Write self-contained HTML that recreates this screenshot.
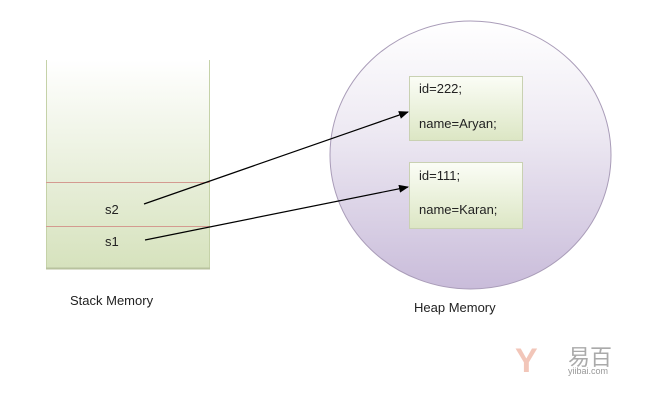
<!DOCTYPE html>
<html><head><style>
body{margin:0;width:645px;height:400px;background:#fff;overflow:hidden;position:relative;font-family:"Liberation Sans","Noto Sans CJK SC",sans-serif;}
.t{position:absolute;font-size:13px;color:#222;white-space:nowrap;}
</style></head><body>
<svg width="645" height="400" style="position:absolute;left:0;top:0">
<defs>
<linearGradient id="sg" x1="0" y1="0" x2="0" y2="1"><stop offset="0" stop-color="#fff"/><stop offset="1" stop-color="#d6e2bd"/></linearGradient>
<linearGradient id="cg" x1="0" y1="0" x2="0" y2="1"><stop offset="0" stop-color="#ffffff"/><stop offset="0.4" stop-color="#eeeaf3"/><stop offset="1" stop-color="#c9bcda"/></linearGradient>
<linearGradient id="bg" x1="0" y1="0" x2="0" y2="1"><stop offset="0" stop-color="#fbfdf6"/><stop offset="1" stop-color="#dce6c4"/></linearGradient>
<marker id="a" markerWidth="10" markerHeight="8" refX="9" refY="4" orient="auto" markerUnits="userSpaceOnUse"><path d="M0,0 L10,4 L0,8 z" fill="#000"/></marker>
</defs>
<rect x="46" y="60" width="164" height="208" fill="url(#sg)"/>
<line x1="46.5" y1="60" x2="46.5" y2="268" stroke="#c5d2a8"/>
<line x1="209.5" y1="60" x2="209.5" y2="268" stroke="#c5d2a8"/>
<line x1="46" y1="268.5" x2="210" y2="268.5" stroke="#b8c29e" stroke-width="2"/>
<line x1="46" y1="182.5" x2="210" y2="182.5" stroke="#d49a90"/>
<line x1="46" y1="226.5" x2="210" y2="226.5" stroke="#d49a90"/>
<ellipse cx="470.5" cy="155" rx="140.5" ry="134" fill="url(#cg)" stroke="#a99cb8"/>
<rect x="409.5" y="76.5" width="113" height="64" fill="url(#bg)" stroke="#c9d1b2"/>
<rect x="409.5" y="162.5" width="113" height="66" fill="url(#bg)" stroke="#c9d1b2"/>
<line x1="144" y1="204" x2="408" y2="112" stroke="#000" stroke-width="1.2" marker-end="url(#a)"/>
<line x1="145" y1="240" x2="408" y2="187" stroke="#000" stroke-width="1.2" marker-end="url(#a)"/>
</svg>
<div class="t" style="left:105px;top:202px">s2</div>
<div class="t" style="left:105px;top:234px">s1</div>
<div class="t" style="left:419px;top:81px">id=222;</div>
<div class="t" style="left:419px;top:116px">name=Aryan;</div>
<div class="t" style="left:419px;top:168px">id=111;</div>
<div class="t" style="left:419px;top:202px">name=Karan;</div>
<div class="t" style="left:70px;top:293px">Stack Memory</div>
<div class="t" style="left:414px;top:300px">Heap Memory</div>
<div style="position:absolute;left:515px;top:342px;font-size:34px;font-weight:bold;color:#f0b8a8;opacity:.8">Y</div>
<div class="t" style="left:568px;top:340px;font-size:22px;color:#aaa">易百</div>
<div class="t" style="left:568px;top:366px;font-size:9px;color:#999">yiibai.com</div>
</body></html>
